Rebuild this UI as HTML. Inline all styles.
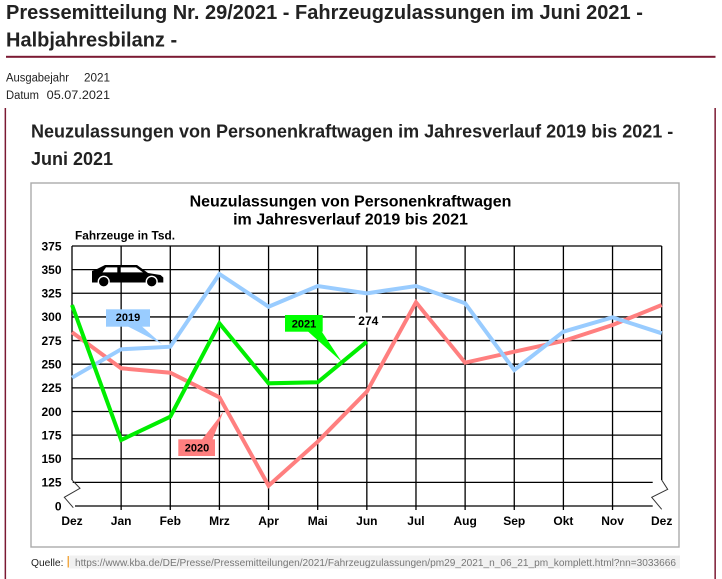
<!DOCTYPE html>
<html><head><meta charset="utf-8"><style>
html,body{margin:0;padding:0;background:#fff;width:722px;height:579px;overflow:hidden}
svg{display:block}
text{font-family:"Liberation Sans",Arial,sans-serif}
</style></head><body>
<svg width="722" height="579" viewBox="0 0 722 579" xmlns="http://www.w3.org/2000/svg">
<rect width="722" height="579" fill="#fff"/>
<!-- Header -->
<text x="6" y="19" font-size="20" font-weight="bold" fill="#222">Pressemitteilung Nr. 29/2021 - Fahrzeugzulassungen im Juni 2021 -</text>
<text x="6" y="46.7" font-size="20" font-weight="bold" fill="#222">Halbjahresbilanz -</text>
<rect x="6" y="55.8" width="709.5" height="2" fill="#7b1a33"/>
<text x="6" y="81.5" font-size="11.5" fill="#222" textLength="63" lengthAdjust="spacingAndGlyphs">Ausgabejahr</text>
<text x="84" y="81.5" font-size="11.5" fill="#222" textLength="26" lengthAdjust="spacingAndGlyphs">2021</text>
<text x="6" y="99" font-size="11.5" fill="#222" textLength="33" lengthAdjust="spacingAndGlyphs">Datum</text>
<text x="46.7" y="99" font-size="11.5" fill="#222" textLength="63.3" lengthAdjust="spacingAndGlyphs">05.07.2021</text>
<!-- outer box lines -->
<rect x="4.6" y="108" width="1.5" height="471" fill="#7b1a33"/>
<rect x="714.4" y="108" width="1.5" height="471" fill="#7b1a33"/>
<!-- Subtitle -->
<text x="31" y="137.7" font-size="18" font-weight="bold" fill="#222">Neuzulassungen von Personenkraftwagen im Jahresverlauf 2019 bis 2021 -</text>
<text x="31" y="165" font-size="18" font-weight="bold" fill="#222">Juni 2021</text>
<!-- Chart box -->
<rect x="31" y="183" width="648" height="364" fill="#fff" stroke="#aaa" stroke-width="1.4"/>
<text x="350.5" y="206.7" font-size="16" font-weight="bold" fill="#000" text-anchor="middle">Neuzulassungen von Personenkraftwagen</text>
<text x="350.5" y="224.5" font-size="16" font-weight="bold" fill="#000" text-anchor="middle">im Jahresverlauf 2019 bis 2021</text>
<text x="75" y="239.5" font-size="11.5" font-weight="bold" fill="#000" textLength="100" lengthAdjust="spacingAndGlyphs">Fahrzeuge in Tsd.</text>
<!-- Grid -->
<g stroke="#000" stroke-width="1.3" fill="none">
<line x1="72" y1="246" x2="661.7" y2="246"/>
<line x1="72" y1="269.64" x2="661.7" y2="269.64"/>
<line x1="72" y1="293.28" x2="661.7" y2="293.28"/>
<line x1="72" y1="316.92" x2="661.7" y2="316.92"/>
<line x1="72" y1="340.56" x2="661.7" y2="340.56"/>
<line x1="72" y1="364.2" x2="661.7" y2="364.2"/>
<line x1="72" y1="387.84" x2="661.7" y2="387.84"/>
<line x1="72" y1="411.48" x2="661.7" y2="411.48"/>
<line x1="72" y1="435.12" x2="661.7" y2="435.12"/>
<line x1="72" y1="458.76" x2="661.7" y2="458.76"/>
<line x1="72.7" y1="482.4" x2="652.7" y2="482.4"/>
<line x1="75" y1="506" x2="652.7" y2="506"/>
<line x1="72" y1="246" x2="72" y2="480"/>
<line x1="661.7" y1="246" x2="661.7" y2="480"/>
<line x1="121.14" y1="246" x2="121.14" y2="510"/>
<line x1="170.28" y1="246" x2="170.28" y2="510"/>
<line x1="219.42" y1="246" x2="219.42" y2="510"/>
<line x1="268.56" y1="246" x2="268.56" y2="510"/>
<line x1="317.7" y1="246" x2="317.7" y2="510"/>
<line x1="366.84" y1="246" x2="366.84" y2="510"/>
<line x1="415.98" y1="246" x2="415.98" y2="510"/>
<line x1="465.12" y1="246" x2="465.12" y2="510"/>
<line x1="514.26" y1="246" x2="514.26" y2="510"/>
<line x1="563.4" y1="246" x2="563.4" y2="510"/>
<line x1="612.54" y1="246" x2="612.54" y2="510"/>
</g>
<g stroke="#333" stroke-width="1" fill="none">
<polyline points="72,480 80,488.3 64.3,497.3 73.3,507.7"/>
<polyline points="661.7,480 667.7,489.3 651.7,497.3 661.7,509.3"/>
</g>
<!-- Y labels -->
<g font-size="12" font-weight="bold" fill="#000" text-anchor="end">
<text x="61.5" y="250.3">375</text>
<text x="61.5" y="273.9">350</text>
<text x="61.5" y="297.6">325</text>
<text x="61.5" y="321.2">300</text>
<text x="61.5" y="344.9">275</text>
<text x="61.5" y="368.5">250</text>
<text x="61.5" y="392.1">225</text>
<text x="61.5" y="415.8">200</text>
<text x="61.5" y="439.4">175</text>
<text x="61.5" y="463.1">150</text>
<text x="61.5" y="486.7">125</text>
<text x="61.5" y="510.5">0</text>
</g>
<!-- X labels -->
<g font-size="12" font-weight="bold" fill="#000" text-anchor="middle">
<text x="72" y="525">Dez</text>
<text x="121.14" y="525">Jan</text>
<text x="170.28" y="525">Feb</text>
<text x="219.42" y="525">Mrz</text>
<text x="268.56" y="525">Apr</text>
<text x="317.7" y="525">Mai</text>
<text x="366.84" y="525">Jun</text>
<text x="415.98" y="525">Jul</text>
<text x="465.12" y="525">Aug</text>
<text x="514.26" y="525">Sep</text>
<text x="563.4" y="525">Okt</text>
<text x="612.54" y="525">Nov</text>
<text x="661.7" y="525">Dez</text>
</g>
<!-- Series -->
<g fill="none" stroke-width="4" stroke-linejoin="miter" stroke-linecap="butt">
<polyline stroke="#ff7f7f" points="72,332.3 121.14,368.3 170.28,372.7 219.42,397.3 268.56,485.7 317.7,441.7 366.84,391.7 415.98,302.3 465.12,362.7 514.26,351.7 563.4,341 612.54,325 661.7,305"/>
<polyline stroke="#99ccff" points="72,377.7 121.14,349.3 170.28,346.7 219.42,274 268.56,306.7 317.7,286 366.84,293.3 415.98,286 465.12,303.3 514.26,370 563.4,331.7 612.54,317.3 661.7,333.3"/>
<polyline stroke="#00ee00" points="72,305 121.14,440 170.28,416.7 219.42,323.3 268.56,383.3 317.7,382.3 366.84,341.7"/>
</g>
<!-- Car -->
<g>
<path d="M92,282.5 L92,271 L97,269 L105,265 L137,265 L148,273 L160.5,275 L163.3,277.5 L163.3,282.5 Z" fill="#000"/>
<path d="M106,267.4 L117.3,267.4 L117.3,272.4 L102.5,272.4 Z" fill="#fff"/>
<path d="M120.7,267.4 L136,267.4 L143,272.4 L120.7,272.4 Z" fill="#fff"/>
<circle cx="103.7" cy="281.7" r="5.4" fill="#000" stroke="#fff" stroke-width="1.4"/>
<circle cx="151.7" cy="281.7" r="5.4" fill="#000" stroke="#fff" stroke-width="1.4"/>
</g>
<!-- Callouts -->
<rect x="106" y="309.3" width="44" height="17.4" fill="#99ccff"/>
<polygon points="128,326.5 142,326.5 162,344" fill="#99ccff"/>
<text x="128" y="321" font-size="11" font-weight="bold" fill="#000" text-anchor="middle">2019</text>
<rect x="285" y="315" width="37.7" height="16.7" fill="#00ff00"/>
<polygon points="308,331.5 321.7,331.5 341.7,361.7" fill="#00ff00"/>
<text x="304" y="327.7" font-size="11" font-weight="bold" fill="#000" text-anchor="middle">2021</text>
<rect x="178.3" y="439.3" width="36.7" height="16.7" fill="#ff7f7f"/>
<polygon points="202,439.5 212.5,439.5 223.3,411.7" fill="#ff7f7f"/>
<text x="197" y="451.3" font-size="11" font-weight="bold" fill="#000" text-anchor="middle">2020</text>
<rect x="355" y="312.5" width="27" height="15" fill="#fff"/>
<text x="368.3" y="325" font-size="12" font-weight="bold" fill="#000" text-anchor="middle">274</text>
<!-- Source -->
<text x="31" y="566" font-size="10.5" fill="#222" textLength="32.5" lengthAdjust="spacingAndGlyphs">Quelle:</text>
<rect x="67.6" y="556" width="1.3" height="11.5" fill="#f0a030"/>
<rect x="69.3" y="555.5" width="610.7" height="13" fill="#f1f1f1"/>
<text x="75" y="566" font-size="10.5" fill="#777" textLength="601" lengthAdjust="spacingAndGlyphs">https://www.kba.de/DE/Presse/Pressemitteilungen/2021/Fahrzeugzulassungen/pm29_2021_n_06_21_pm_komplett.html?nn=3033666</text>
</svg>
</body></html>
